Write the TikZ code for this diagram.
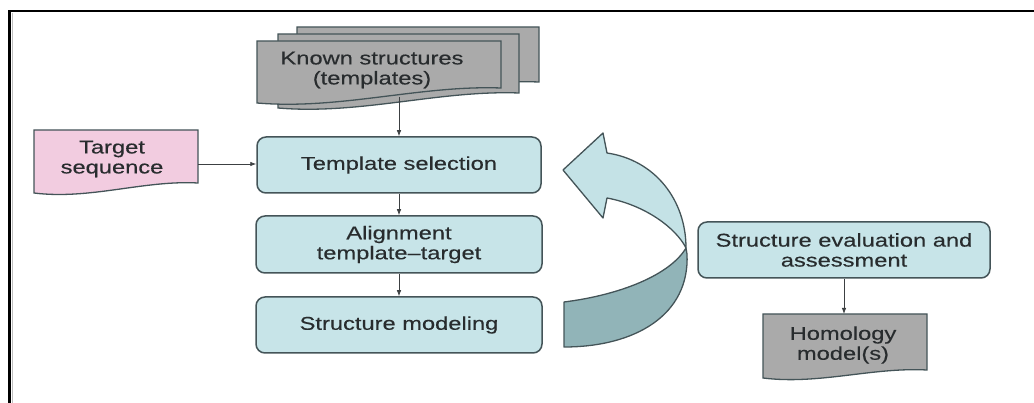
\documentclass[tikz,border=0pt]{standalone}
\usepackage{fontspec}
\setmainfont{Liberation Sans}[FakeStretch=1.28,FakeBold=0.35]
\usetikzlibrary{arrows.meta,calc}

\definecolor{boxfill}{RGB}{199,228,232}
\definecolor{boxline}{RGB}{68,84,88}
\definecolor{pinkfill}{RGB}{242,204,224}
\definecolor{grayfill}{RGB}{170,170,170}
\definecolor{ribbonlight}{RGB}{196,226,230}
\definecolor{ribbondark}{RGB}{145,180,184}
\definecolor{textc}{RGB}{40,44,46}
\definecolor{linec}{RGB}{60,64,66}

% document page with a wavy lower edge: x1, top y, x2, right-bottom y, left drop, fill
\newcommand{\docpage}[6]{%
  \draw[pageline, fill=#6] (#1,#2) -- (#3,#2) -- (#3,#4)
    .. controls ({#3-0.33*(#3-#1)},{#4-3}) and ({#1+0.34*(#3-#1)},{#4+#5+7}) ..
    (#1,{#4+#5}) -- cycle;}

\begin{document}
\begin{tikzpicture}[x=1pt,y=-1pt,
  every node/.style={font=\fontsize{18.5}{20}\selectfont, text=textc},
  stepbox/.style={draw=boxline, fill=boxfill, line width=1.5pt, rounded corners=9pt,
    align=center, inner sep=0pt},
  doclabel/.style={align=center, inner sep=0pt},
  pageline/.style={draw=boxline, line width=1.3pt},
  arr/.style={draw=linec, line width=0.8pt, -{Latex[length=6pt,width=4.5pt]}},
  ribbon/.style={draw=boxline, line width=1.3pt, line join=round}]

\useasboundingbox (0,0) rectangle (1034,403);

% outer frame
\draw[line width=2.6pt] (8,11) -- (1034,11);
\draw[line width=2.6pt] (9.5,11) -- (9.5,403);
\draw[black!25, line width=1.5pt] (12.3,13) -- (12.3,403);

% stack of known structures
\docpage{297}{27}{539}{82}{15}{grayfill}
\docpage{278}{34}{519}{93}{15}{grayfill}
\docpage{257}{41}{501}{88}{15}{grayfill}
\node[doclabel] (known) at (372,70) {Known structures\\(templates)};
\coordinate (known-bot) at (399,97);

% target sequence
\docpage{34}{130}{198}{183}{10}{pinkfill}
\node[doclabel] (target) at (112,159) {Target\\sequence};
\coordinate (target-right) at (198,164);

% main pipeline
\node[stepbox, minimum width=284pt, minimum height=56pt] (tsel) at (399,165) {Template selection};
\node[stepbox, minimum width=286pt, minimum height=57pt] (align) at (399,244.5) {Alignment\\template--target};
\node[stepbox, minimum width=286pt, minimum height=56pt] (model) at (399,325) {Structure modeling};

% evaluation and result
\node[stepbox, minimum width=292pt, minimum height=56pt] (eval) at (844,250) {Structure evaluation and\\assessment};
\docpage{763}{314}{927}{370}{8}{grayfill}
\node[doclabel] (homol) at (843,345) {Homology\\model(s)};
\coordinate (homol-top) at (844,314);

% connectors
\draw[arr] (known-bot) -- (tsel.north);
\draw[arr] (target-right) -- (target-right -| tsel.west);
\draw[arr] (tsel.south) -- (align.north);
\draw[arr] (align.south) -- (model.north);
\draw[arr] (eval.south) -- (homol-top);

% curved feedback ribbon: lower edge seen side-on, upper face with the head
\draw[ribbon, fill=ribbondark] (564,302) -- (564,347)
  .. controls (635,347) and (690,315) .. (687,254) -- (686,248)
  .. controls (670,275) and (620,295) .. (564,302) -- cycle;
\draw[ribbon, fill=ribbonlight] (563,170) -- (603,133) -- (607,153)
  .. controls (655,160) and (686,200) .. (686,248)
  .. controls (676,228) and (645,205) .. (607,198)
  -- (603,218) -- cycle;
\end{tikzpicture}
\end{document}
